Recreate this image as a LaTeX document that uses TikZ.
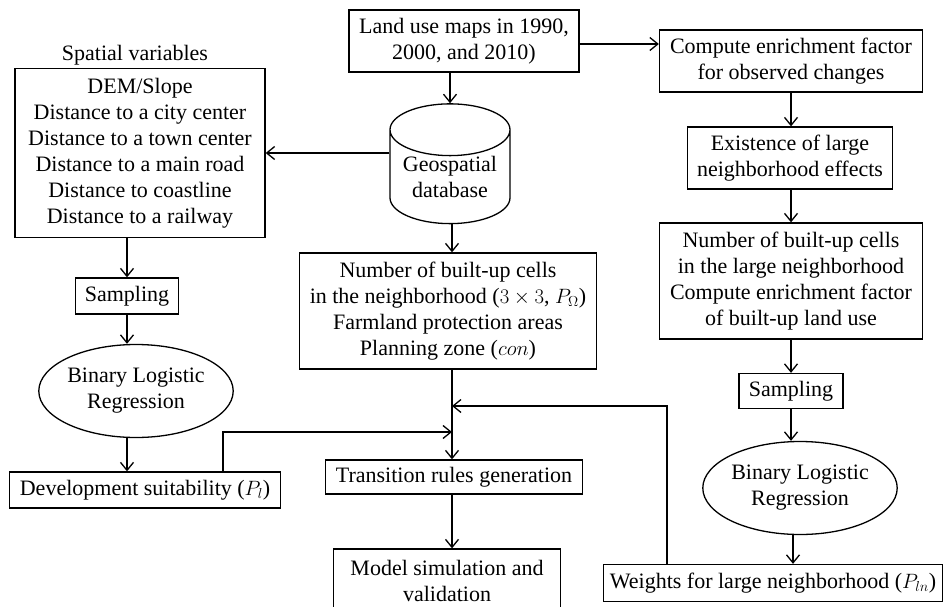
\documentclass[tikz,border=0pt]{standalone}
\usepackage{amsmath,amssymb}
\usepackage{fontspec}
\setmainfont{Liberation Serif}
\usepackage{tikz}
\usetikzlibrary{positioning,calc}
\usetikzlibrary{arrows.meta,shapes.geometric}
\tikzset{
  box/.style={rectangle,draw=black,line width=1.3pt,align=center,inner sep=2pt,
    font=\fontsize{22}{26}\selectfont},
  oval/.style={ellipse,draw=black,line width=1.3pt,align=center,inner sep=0pt,
    font=\fontsize{22}{26}\selectfont},
  store/.style={cylinder,shape border rotate=90,draw=black,line width=1.3pt,aspect=0.55,
    align=center,inner sep=0pt,font=\fontsize{22}{26}\selectfont},
}
\tikzset{arr/.style={draw=black,line width=1.3pt,-{Straight Barb[length=8pt,width=13pt]}},
  lbl/.style={inner sep=2pt,font=\fontsize{22}{26}\selectfont}}

\begin{document}
\begin{tikzpicture}[x=1pt,y=-1pt]
\useasboundingbox (0,0) rectangle (944,607);
% centre column
\node[box,minimum width=230pt,minimum height=62pt] (land) at (464,41) {Land use maps in 1990,\\2000, and 2010)};
\node[store,minimum width=120pt,minimum height=113pt] (geo) at (450,177) {Geospatial\\database};
\node[box,minimum width=297pt,minimum height=116pt] (nbr) at (448,311) {Number of built-up cells\\in the neighborhood ($3\times3$, $P_\Omega$)\\Farmland protection areas\\Planning zone ($con$)};
\node[box,minimum width=257pt,minimum height=34pt] (trans) at (454,477) {Transition rules generation};
\node[box,minimum width=227pt,minimum height=64pt] (model) at (447,581) {Model simulation and\\validation};
% left column
\node[box,minimum width=250pt,minimum height=169pt] (spatial) at (140,153) {DEM/Slope\\Distance to a city center\\Distance to a town center\\Distance to a main road\\Distance to coastline\\Distance to a railway};
\node[lbl,anchor=south] (svlab) at ([xshift=-5pt]spatial.north) {Spatial variables};
\node[box,minimum width=103pt,minimum height=36pt] (sampA) at (127,296) {Sampling};
\node[oval,minimum width=187pt,minimum height=93pt] (blrA) at (136,391) {Binary Logistic\\Regression};
\node[box,minimum width=271pt,minimum height=36pt] (dev) at (145,490) {Development suitability ($P_l$)};
% right column
\node[box,minimum width=263pt,minimum height=62pt] (enrich) at (791,61) {Compute enrichment factor\\for observed changes};
\node[box,minimum width=205pt,minimum height=62pt] (exist) at (790,158) {Existence of large\\neighborhood effects};
\node[box,minimum width=263pt,minimum height=116pt] (large) at (791,281) {Number of built-up cells\\in the large neighborhood\\Compute enrichment factor\\of built-up land use};
\node[box,minimum width=104pt,minimum height=35pt] (sampB) at (791,391) {Sampling};
\node[oval,minimum width=187pt,minimum height=93pt] (blrB) at (800,488) {Binary Logistic\\Regression};
\node[box,minimum width=339pt,minimum height=37pt] (wts) at (773,583) {Weights for large neighborhood ($P_{ln}$)};
% merge points
\coordinate (mA) at (452,406);
\coordinate (mB) at (452,432);
% connectors
\draw[arr] (geo.north |- land.south) -- (geo.north);
\draw[arr] ([yshift=-3pt]land.east) -- ([yshift=-3pt]land.east -| enrich.west);
\draw[arr] (spatial.east -| geo.west) -- (spatial.east);
\draw[arr] (mA |- geo.south) -- (mA |- nbr.north);
\draw[arr] (sampA.north |- spatial.south) -- (sampA.north);
\draw[arr] (sampA.south) -- (sampA.south |- blrA.north);
\draw[arr] (sampA.south |- blrA.south) -- (sampA.south |- dev.north);
\draw[arr] (mA |- nbr.south) -- (mA |- trans.north);
\draw[arr] ([xshift=78pt]dev.north) |- (mB);
\draw[arr] ([xshift=-106pt]wts.north) |- (mA);
\draw[arr] (mA |- trans.south) -- (mA |- model.north);
\draw[arr] (enrich.south) -- (enrich.south |- exist.north);
\draw[arr] (enrich.south |- exist.south) -- (enrich.south |- large.north);
\draw[arr] (large.south) -- (sampB.north);
\draw[arr] (sampB.south) -- (sampB.south |- blrB.north);
\draw[arr] ([xshift=-7pt]blrB.south) -- ([xshift=-7pt]blrB.south |- wts.north);
\end{tikzpicture}
\end{document}
